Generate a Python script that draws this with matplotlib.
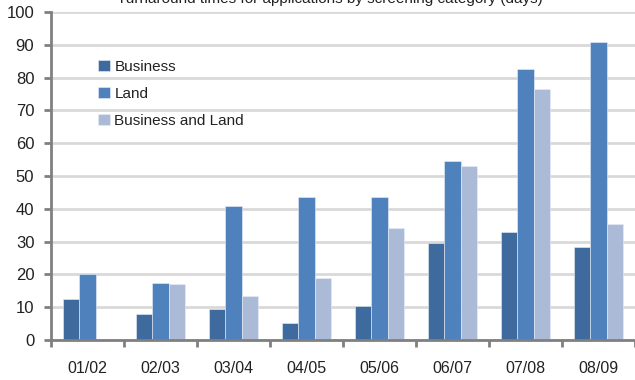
import numpy as np
import matplotlib.pyplot as plt
from matplotlib.patches import Rectangle

plt.rcParams['font.family'] = ['Liberation Sans', 'DejaVu Sans']

years = ['01/02', '02/03', '03/04', '04/05', '05/06', '06/07', '07/08', '08/09']
business = [12.5, 7.9, 9.5, 5.2, 10.5, 29.5, 33.0, 28.3]
land = [20.0, 17.5, 41.0, 43.5, 43.5, 54.5, 82.5, 91.0]
bus_land = [0.0, 17.0, 13.5, 19.0, 34.0, 53.0, 76.5, 35.3]

colours = ['#3F6A9D', '#4F81BD', '#AABAD7']
labels = ['Business', 'Land', 'Business and Land']

fig = plt.figure(figsize=(6.35, 3.8), dpi=100)
ax = fig.add_axes([51/635, 1 - 340/380, 1 - 51/635, (340 - 12)/380])

x = np.arange(len(years))
w = 0.22
for i, (vals, c, lab) in enumerate(zip([business, land, bus_land], colours, labels)):
    ax.bar(x + (i - 1) * w, vals, w, color=c, label=lab, edgecolor='#E8EEF7', linewidth=0.4, zorder=3)

ax.set_xlim(-0.5, len(years) - 0.5)
ax.set_ylim(0, 100)
ax.set_yticks(range(0, 101, 10))
ax.set_xticks(x)
ax.set_xticklabels(years)
ax.set_xticks(np.arange(-0.5, len(years)), minor=True)
ax.tick_params(axis='x', which='major', length=0, pad=15, labelsize=11.5, labelcolor='#222222')
ax.tick_params(axis='x', which='minor', length=5, width=2, color='#808080')
ax.tick_params(axis='y', length=5, width=2, color='#808080', labelsize=12, pad=7,
               labelcolor='#222222')

ax.grid(axis='y', color='#D9D9D9', linewidth=2, zorder=0)
for s in ['top', 'right']:
    ax.spines[s].set_visible(False)
for s in ['left', 'bottom']:
    ax.spines[s].set_color('#808080')
    ax.spines[s].set_linewidth(2)
ax.spines['bottom'].set_zorder(4)

# white box behind the legend, wider than the legend itself
ax.add_patch(Rectangle((0.048, 0.62), 0.318, 0.26, transform=ax.transAxes,
                       facecolor='white', edgecolor='none', zorder=1))

leg = ax.legend(loc='upper left', bbox_to_anchor=(0.073, 0.869), frameon=False,
                fontsize=11, handlelength=0.75, handleheight=0.75, handletextpad=0.3,
                labelspacing=0.85, borderpad=0.3, borderaxespad=0)
leg.set_zorder(5)
for t in leg.get_texts():
    t.set_color('#222222')

fig.text(0.52, 1 - 3/380, 'Turnaround times for applications by screening category (days)',
         ha='center', va='baseline', fontsize=11, color='#222222')

fig.savefig('out.png', dpi=100)
